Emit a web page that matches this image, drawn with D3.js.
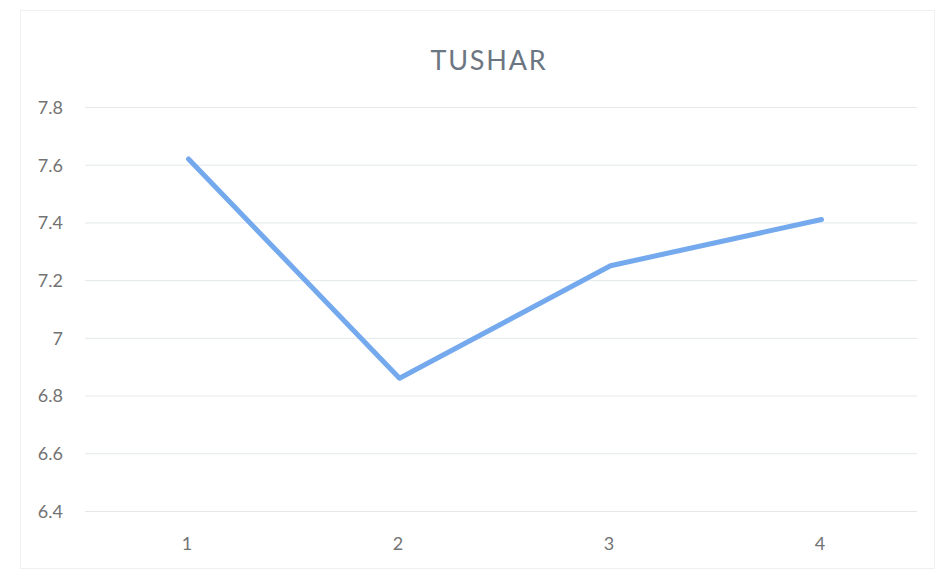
<!DOCTYPE html>
<html>
<head>
<meta charset="utf-8">
<script src="https://cdn.jsdelivr.net/npm/d3@7"></script>
<style>
  html, body { margin: 0; padding: 0; background: #ffffff; }
  svg { display: block; }
</style>
</head>
<body>
<svg id="chart" width="941" height="575"></svg>
<script>
// Series data
const title = "TUSHAR";
const categories = ["1", "2", "3", "4"];
const values = [7.62, 6.86, 7.25, 7.41];
const yTicks = [6.4, 6.6, 6.8, 7.0, 7.2, 7.4, 7.6, 7.8];

const W = 941, H = 575;
const plot = { left: 83, right: 927, top: 107, bottom: 511 };
const font = "Lato, 'Open Sans', 'Liberation Sans', sans-serif";

const svg = d3.select("#chart");

// Faint outer chart border
svg.append("rect")
  .attr("x", 20.5).attr("y", 10.5)
  .attr("width", 914).attr("height", 558)
  .attr("fill", "none")
  .attr("stroke", "#f0f0f0")
  .attr("stroke-width", 1);

const x = d3.scalePoint()
  .domain(categories)
  .range([plot.left, plot.right])
  .padding(0.5);

const y = d3.scaleLinear()
  .domain([6.4, 7.8])
  .range([plot.bottom, plot.top]);

// Horizontal gridlines
const yAxis = d3.axisLeft(y)
  .tickValues(yTicks)
  .tickSize(-(plot.right - plot.left - 12))
  .tickFormat(d => d3.format("~g")(d));

const gy = svg.append("g")
  .attr("transform", `translate(${plot.left + 2},0)`)
  .call(yAxis);
gy.select(".domain").remove();
gy.selectAll(".tick line")
  .attr("stroke", "#e4e8ea")
  .attr("stroke-width", 1);
gy.selectAll(".tick text")
  .attr("x", -22)
  .attr("dy", "0.35em")
  .attr("fill", "#737373")
  .style("font-family", font)
  .style("font-size", "18px")
  .attr("text-anchor", "end");

// Category labels
const xAxis = d3.axisBottom(x).tickSize(0).tickPadding(0);
const gx = svg.append("g")
  .attr("transform", `translate(0,${plot.bottom})`)
  .call(xAxis);
gx.select(".domain").remove();
gx.selectAll(".tick text")
  .attr("x", -2)
  .attr("y", 33)
  .attr("dy", "0.35em")
  .attr("fill", "#737373")
  .style("font-family", font)
  .style("font-size", "18px");

// Data line
const line = d3.line()
  .x((d, i) => x(categories[i]))
  .y(d => y(d));

svg.append("path")
  .datum(values)
  .attr("d", line)
  .attr("fill", "none")
  .attr("stroke", "#74a9ee")
  .attr("stroke-width", 5)
  .attr("stroke-linejoin", "round")
  .attr("stroke-linecap", "round");

// Title
svg.append("text")
  .attr("x", 489)
  .attr("y", 70)
  .attr("text-anchor", "middle")
  .attr("fill", "#6c7682")
  .style("font-family", font)
  .style("font-size", "27px")
  .style("letter-spacing", "1.8px")
  .text(title);
</script>
</body>
</html>
